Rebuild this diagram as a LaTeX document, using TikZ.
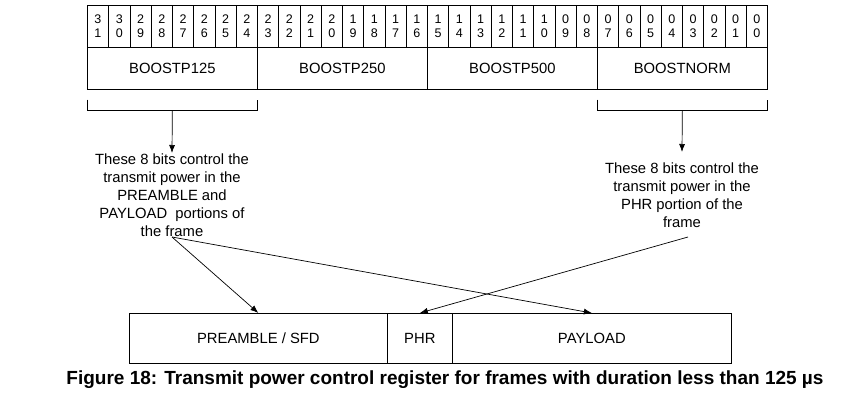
\documentclass[tikz,border=0pt]{standalone}
\usepackage{fontspec}
\setmainfont{Liberation Sans}
\usetikzlibrary{arrows.meta,calc}
\begin{document}
\begin{tikzpicture}[x=1pt,y=-1pt,
  line width=0.7pt,
  bitcell/.style={draw, minimum width=21.25pt, minimum height=42pt, inner sep=0pt, anchor=north west, align=center, font=\fontsize{12.5}{14}\selectfont},
  fieldbox/.style={draw, minimum width=170pt, minimum height=42pt, inner sep=0pt, anchor=north west, font=\fontsize{14.8}{18}\selectfont},
  framebox/.style={draw, minimum height=50pt, inner sep=0pt, anchor=north west, font=\fontsize{14.8}{18}\selectfont},
  note/.style={align=center, font=\fontsize{14.8}{18}\selectfont, inner sep=0pt},
  arr/.style={-{Latex[length=8pt,width=6pt]}}]
\useasboundingbox (0,0) rectangle (860,404);
% bit cells
\foreach \i in {0,...,31}{
  \pgfmathtruncatemacro{\t}{\i/10}
  \pgfmathtruncatemacro{\o}{mod(\i,10)}
  \pgfmathsetmacro{\xx}{87+(31-\i)*21.25}
  \node[bitcell] (b\i) at (\xx,5) {\t\\\o};
}
% fields
\node[fieldbox] (f125) at (87,47) {BOOSTP125};
\node[fieldbox] (f250) at (257,47) {BOOSTP250};
\node[fieldbox] (f500) at (427,47) {BOOSTP500};
\node[fieldbox] (fnorm) at (597,47) {BOOSTNORM};
% brackets
\draw ($(f125.south west)+(0,10)$) |- ($(f125.south)+(0,21)$) coordinate (lb) -| ($(f125.south east)+(0,10)$);
\draw ($(fnorm.south west)+(0,10)$) |- ($(fnorm.south)+(0,21)$) coordinate (rb) -| ($(fnorm.south east)+(0,10)$);
% notes
\node[note, anchor=north] (ln) at (172,153) {These 8 bits control the\\transmit power in the\\PREAMBLE and\\PAYLOAD\ \ portions of\\the frame};
\node[note, anchor=north] (rn) at (682,162) {These 8 bits control the\\transmit power in the\\PHR portion of the\\frame};
\coordinate (rt) at (682,152);
\draw[arr] (lb) -- (ln.north);
\draw[arr] (rb) -- (rt);
% frame
\node[framebox, minimum width=258pt] (pre) at (129,313) {PREAMBLE / SFD};
\node[framebox, minimum width=65pt] (phr) at (387,313) {PHR};
\node[framebox, minimum width=279pt] (pay) at (452,313) {PAYLOAD};
\coordinate (ls) at (172,237);
\coordinate (rs) at (688,237);
\draw[arr] (ls) -- (pre.north);
\draw[arr] (ls) -- (pay.north);
\draw[arr] (rs) -- (phr.north);
% caption
\node[font=\fontsize{19}{22}\selectfont\bfseries] (cap) at (445,380) {Figure 18: Transmit power control register for frames with duration less than 125 µs};
\end{tikzpicture}
\end{document}
